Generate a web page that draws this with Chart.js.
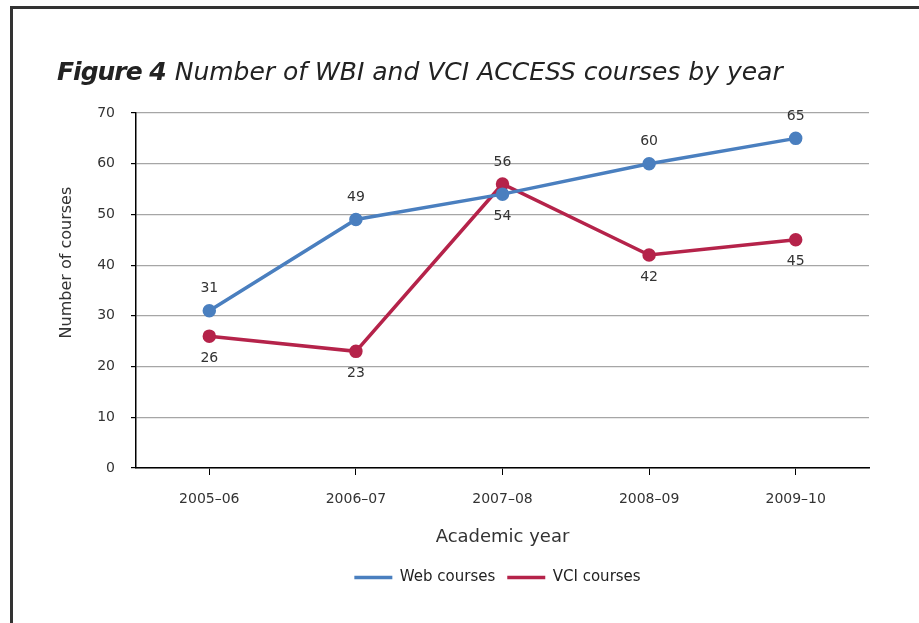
<!DOCTYPE html>
<html>
<head>
<meta charset="utf-8">
<script src="https://cdn.jsdelivr.net/npm/chart.js@4/dist/chart.umd.min.js"></script>
<style>
  html, body { margin: 0; padding: 0; background: #fff; }
  body { width: 919px; height: 623px; position: relative; overflow: hidden; font-family: "DejaVu Sans", sans-serif; }
  #frame { position: absolute; left: 10px; top: 6px; width: 1000px; height: 1000px;
           border-top: 3px solid #333; border-left: 3px solid #333; pointer-events: none; }
  #title { position: absolute; left: 57px; top: 59px; font-size: 25px; font-style: italic;
           color: #222; white-space: nowrap; line-height: 1; font-weight: 300; }
  #title b { font-weight: bold; letter-spacing: -1px; margin-right: 1px; }
  #wrap { position: absolute; left: 0; top: 0; width: 919px; height: 623px; }
</style>
</head>
<body>
<div id="wrap"><canvas id="chart" width="919" height="623"></canvas></div>
<div id="frame"></div>
<div id="title"><b>Figure 4</b> Number of WBI and VCI ACCESS courses by year</div>
<script>
var years = ["2005\u201306", "2006\u201307", "2007\u201308", "2008\u201309", "2009\u201310"];
var webCourses = [31, 49, 54, 60, 65];
var vciCourses = [26, 23, 56, 42, 45];
// where each value label sits
var webLabelPos = ["top", "top", "bottom", "top", "top"];
var vciLabelPos = ["bottom", "bottom", "top", "bottom", "bottom"];
var yTicks = [0, 10, 20, 30, 40, 50, 60, 70];
var yTitle = "Number of courses";

var blue = "#4a7fbf";
var red = "#b5234a";
var font = "DejaVu Sans";

// draw the numbers next to the points, and the y title (sits a bit above centre)
var valueLabels = {
  id: "valueLabels",
  afterLayout: function(chart) {
    // legend centred under the plot, not the whole canvas
    chart.legend.left = chart.chartArea.left - 10;
    chart.legend.right = chart.chartArea.right;
  },
  afterDatasetsDraw: function(chart) {
    var ctx = chart.ctx;
    ctx.save();
    ctx.font = "14px '" + font + "'";
    ctx.fillStyle = "#333";
    ctx.textAlign = "center";
    ctx.textBaseline = "middle";
    chart.data.datasets.forEach(function(ds, i) {
      var meta = chart.getDatasetMeta(i);
      meta.data.forEach(function(pt, j) {
        var dy = ds.labelPos[j] === "top" ? -22 : 22;
        ctx.fillText(ds.data[j], pt.x, pt.y + dy);
      });
    });
    ctx.translate(67, chart.scales.y.getPixelForValue(40.5));
    ctx.rotate(-Math.PI / 2);
    ctx.font = "16px '" + font + "'";
    ctx.fillText(yTitle, 0, 0);
    ctx.restore();
  }
};

new Chart(document.getElementById("chart"), {
  type: "line",
  data: {
    labels: years,
    datasets: [
      {
        label: "Web courses",
        data: webCourses,
        labelPos: webLabelPos,
        borderColor: blue,
        backgroundColor: blue,
        borderWidth: 3.5,
        pointRadius: 5,
        pointHoverRadius: 5,
        tension: 0
      },
      {
        label: "VCI courses",
        data: vciCourses,
        labelPos: vciLabelPos,
        borderColor: red,
        backgroundColor: red,
        borderWidth: 3.5,
        pointRadius: 5,
        pointHoverRadius: 5,
        tension: 0
      }
    ]
  },
  options: {
    responsive: false,
    animation: false,
    layout: { padding: { left: 0, right: 50, top: 113, bottom: 28 } },
    plugins: {
      tooltip: { enabled: false },
      legend: {
        position: "bottom",
        labels: {
          usePointStyle: true,
          pointStyle: "line",
          pointStyleWidth: 38,
          padding: 12,
          color: "#222",
          font: { family: font, size: 15 }
        }
      }
    },
    scales: {
      x: {
        offset: true,
        grid: { drawOnChartArea: false, drawTicks: true, tickLength: 7, tickColor: "#000" },
        border: { color: "#000", width: 1.5 },
        ticks: { color: "#333", padding: 16, maxRotation: 0, font: { family: font, size: 14 } },
        title: { display: true, text: "Academic year", color: "#333", padding: { top: 0, bottom: 10 },
                 font: { family: font, size: 18 } },
        afterFit: function(scale) { scale.height = 90; }
      },
      y: {
        min: 0,
        max: 70,
        afterBuildTicks: function(scale) {
          scale.ticks = yTicks.map(function(v) { return { value: v }; });
        },
        grid: { color: "#a6a6a6", lineWidth: 1.2, tickLength: 5, tickColor: "#000" },
        border: { color: "#000", width: 1.5 },
        ticks: { color: "#333", padding: 16, font: { family: font, size: 14 } },
        afterFit: function(scale) { scale.width = 136; }
      }
    }
  },
  plugins: [valueLabels]
});
</script>
</body>
</html>
